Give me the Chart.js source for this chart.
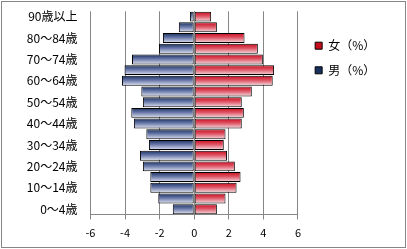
<!DOCTYPE html>
<html>
<head>
<meta charset="utf-8">
<script src="https://cdn.jsdelivr.net/npm/chart.js@4/dist/chart.umd.min.js"></script>
<style>
html,body{margin:0;padding:0;background:#fff;overflow:hidden;}
#wrap{position:relative;width:407px;height:249px;}
</style>
</head>
<body>
<div id="wrap"><canvas id="c"></canvas></div>
<script>
// Categories (bottom to top)
const ageGroups = ["0～4歳","5～9歳","10～14歳","15～19歳","20～24歳","25～29歳","30～34歳","35～39歳","40～44歳","45～49歳","50～54歳","55～59歳","60～64歳","65～69歳","70～74歳","75～79歳","80～84歳","85～89歳","90歳以上"];
// 男（%） plotted to the left (negative)
const maleValues = [-1.24,-2.08,-2.54,-2.54,-2.97,-3.14,-2.62,-2.77,-3.49,-3.64,-2.97,-3.06,-4.18,-4.03,-3.60,-2.04,-1.81,-0.89,-0.25];
// 女（%）
const femaleValues = [1.31,1.81,2.45,2.68,2.35,1.90,1.71,1.81,2.75,2.87,2.75,3.33,4.54,4.62,3.97,3.68,2.91,1.31,0.98];
const seriesNames = ["女（%）","男（%）"];
const xTickValues = [-6,-4,-2,0,2,4,6];

const FONT = "'Noto Sans CJK JP','Noto Sans',sans-serif";
Chart.defaults.font.family = FONT;
Chart.defaults.color = '#000';

const BAR_PCT = 0.93;
function gradientFill(stops, solid) {
  return function(ctx) {
    const chart = ctx.chart;
    if (ctx.type !== 'data' || !chart.chartArea) return solid;
    const ys = chart.scales.y;
    const yc = ys.getPixelForValue(ctx.dataIndex);
    const band = Math.abs(ys.getPixelForValue(1) - ys.getPixelForValue(0));
    const h = band * BAR_PCT / 2;
    const g = chart.ctx.createLinearGradient(0, yc - h, 0, yc + h);
    stops.forEach(s => g.addColorStop(s[0], s[1]));
    return g;
  };
}

const framePlugin = {
  id: 'frame',
  beforeDraw(chart) {
    const c = chart.ctx;
    c.save();
    c.fillStyle = '#fff';
    c.fillRect(0, 0, chart.width, chart.height);
    c.strokeStyle = '#868686';
    c.lineWidth = 1;
    c.strokeRect(1.5, 1.5, 404, 246);
    c.restore();
  },
  afterLayout(chart) {
    const l = chart.legend;
    if (l) { l.left += 4.6; l.right += 4.6; }
  },
  afterDatasetsDraw(chart) {
    const xs = chart.scales.x, a = chart.chartArea, c = chart.ctx;
    const px = Math.round(xs.getPixelForValue(0) - 0.5) + 0.5;
    c.save();
    c.strokeStyle = '#868686';
    c.lineWidth = 1;
    c.beginPath();
    c.moveTo(px, a.top);
    c.lineTo(px, a.bottom);
    c.stroke();
    c.restore();
  }
};

new Chart(document.getElementById('c'), {
  type: 'bar',
  data: {
    labels: ageGroups,
    datasets: [
      {
        label: seriesNames[0],
        data: femaleValues,
        backgroundColor: gradientFill([[0,'#c80a1c'],[0.45,'#de5566'],[1,'#f6e0e3']], '#d9485a'),
        borderColor: '#000',
        borderWidth: 1,
        borderSkipped: false,
        barPercentage: BAR_PCT,
        categoryPercentage: 1
      },
      {
        label: seriesNames[1],
        data: maleValues,
        backgroundColor: gradientFill([[0,'#17305e'],[0.45,'#6877a8'],[1,'#e2e6f3']], '#4a5e94'),
        borderColor: '#000',
        borderWidth: 1,
        borderSkipped: false,
        barPercentage: BAR_PCT,
        categoryPercentage: 1
      }
    ]
  },
  options: {
    indexAxis: 'y',
    responsive: true,
    maintainAspectRatio: false,
    animation: false,
    layout: { padding: { left: 0, top: 11.3, right: 26.4, bottom: 2.3 } },
    scales: {
      x: {
        type: 'linear',
        stacked: true,
        min: xTickValues[0],
        max: xTickValues[xTickValues.length - 1],
        afterBuildTicks(scale) { scale.ticks = xTickValues.map(v => ({ value: v })); },
        grid: { color: '#868686', lineWidth: 1, drawTicks: true, tickLength: 5, tickColor: '#868686' },
        border: { display: true, color: '#868686' },
        ticks: { font: { size: 11 }, padding: 7, color: '#000' }
      },
      y: {
        type: 'category',
        stacked: true,
        reverse: true,
        afterFit(scale) { scale.width = 90.5; scale.paddingTop = 0; scale.paddingBottom = 0; },
        grid: { display: false, drawTicks: false },
        border: { display: false },
        ticks: {
          autoSkip: false,
          padding: 13,
          font: { size: 12 },
          color: '#000',
          callback(value, index) { return index % 2 === 0 ? ageGroups[index] : ''; }
        }
      }
    },
    plugins: {
      tooltip: { enabled: false },
      legend: {
        position: 'right',
        align: 'start',
        title: { display: true, text: ' ', font: { size: 10 }, padding: { top: 0, bottom: 3.8 } },
        labels: {
          boxWidth: 7,
          boxHeight: 7,
          padding: 12.6,
          color: '#000',
          font: { size: 12 }
        }
      }
    }
  },
  plugins: [framePlugin]
});
</script>
</body>
</html>
